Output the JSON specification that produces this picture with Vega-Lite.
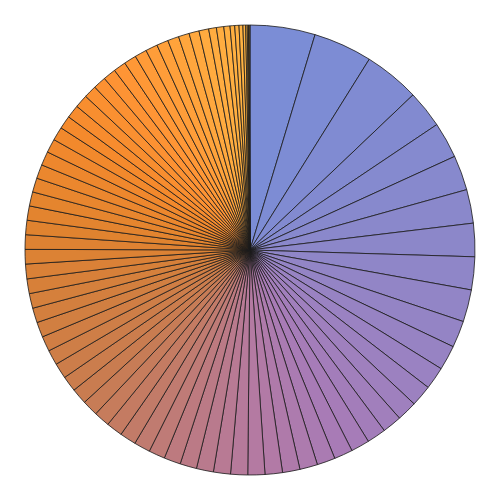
{
  "$schema": "https://vega.github.io/schema/vega-lite/v6.json",
  "width": 500,
  "height": 500,
  "padding": 0,
  "autosize": {"type": "none"},
  "background": "white",
  "data": {"values": [
    {"id":1,"v":16.8},{"id":2,"v":15.2},{"id":3,"v":14.4},{"id":4,"v":9.7},{"id":5,"v":9.3},
    {"id":6,"v":9.0},{"id":7,"v":8.7},{"id":8,"v":8.6},{"id":9,"v":8.5},{"id":10,"v":8.3},
    {"id":11,"v":6.9},{"id":12,"v":6.4},{"id":13,"v":5.8},{"id":14,"v":5.5},{"id":15,"v":5.2},
    {"id":16,"v":5.0},{"id":17,"v":4.9},{"id":18,"v":4.8},{"id":19,"v":4.8},{"id":20,"v":4.7},
    {"id":21,"v":4.6},{"id":22,"v":4.5},{"id":23,"v":4.5},{"id":24,"v":4.4},{"id":25,"v":4.4},
    {"id":26,"v":4.4},{"id":27,"v":4.4},{"id":28,"v":4.3},{"id":29,"v":4.3},{"id":30,"v":4.2},
    {"id":31,"v":4.2},{"id":32,"v":4.2},{"id":33,"v":4.2},{"id":34,"v":4.1},{"id":35,"v":4.1},
    {"id":36,"v":4.1},{"id":37,"v":4.0},{"id":38,"v":4.0},{"id":39,"v":3.9},{"id":40,"v":3.9},
    {"id":41,"v":3.9},{"id":42,"v":3.8},{"id":43,"v":3.8},{"id":44,"v":3.8},{"id":45,"v":3.8},
    {"id":46,"v":3.75},{"id":47,"v":3.75},{"id":48,"v":3.7},{"id":49,"v":3.7},{"id":50,"v":3.65},
    {"id":51,"v":3.65},{"id":52,"v":3.6},{"id":53,"v":3.6},{"id":54,"v":3.55},{"id":55,"v":3.5},
    {"id":56,"v":3.4},{"id":57,"v":3.4},{"id":58,"v":3.4},{"id":59,"v":3.3},{"id":60,"v":3.3},
    {"id":61,"v":3.3},{"id":62,"v":3.2},{"id":63,"v":3.2},{"id":64,"v":3.1},{"id":65,"v":3.1},
    {"id":66,"v":3.0},{"id":67,"v":2.9},{"id":68,"v":2.8},{"id":69,"v":2.6},{"id":70,"v":2.5},
    {"id":71,"v":2.0},{"id":72,"v":1.9},{"id":73,"v":1.6},{"id":74,"v":1.2},{"id":75,"v":1.1},
    {"id":76,"v":1.0},{"id":77,"v":0.7},{"id":78,"v":0.4},{"id":79,"v":0.3},{"id":80,"v":0.2},
    {"id":81,"v":0.2}
  ]},
  "mark": {"type": "arc", "outerRadius": 225, "stroke": "#1a1a1a", "strokeWidth": 0.8},
  "encoding": {
    "theta": {"field": "v", "type": "quantitative", "stack": true},
    "order": {"field": "id", "type": "quantitative"},
    "color": {
      "field": "id",
      "type": "quantitative",
      "legend": null,
      "scale": {
        "domain": [1, 8, 13, 19, 24, 28, 32, 36, 42, 48, 56, 62, 70, 81],
        "range": ["#7b8dd6", "#8c87c9", "#9a82c2", "#a87bb6", "#b47aa2", "#bb7a86", "#c27b68", "#c97c50", "#d37f3e", "#e0832f", "#f58a2c", "#ff9535", "#ffab3f", "#ffb845"],
        "interpolate": "rgb"
      }
    }
  },
  "config": {"view": {"stroke": null}}
}
